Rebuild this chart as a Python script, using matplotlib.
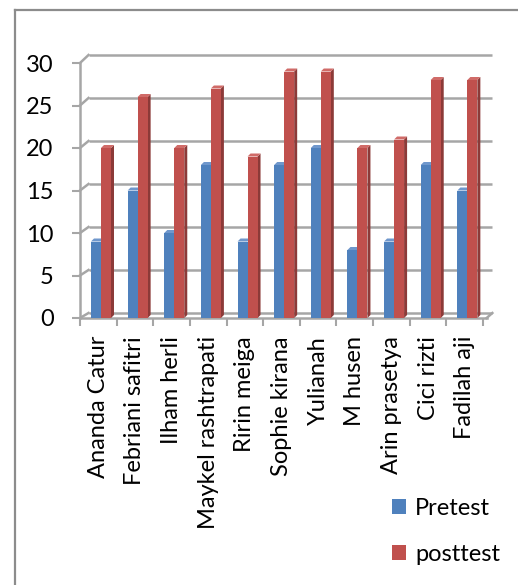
import matplotlib
matplotlib.use("Agg")
import matplotlib.pyplot as plt
from matplotlib.patches import Polygon
from matplotlib.lines import Line2D

categories = ["Ananda Catur", "Febriani safitri", "Ilham herli", "Maykel rashtrapati",
              "Ririn meiga", "Sophie kirana", "Yulianah", "M husen", "Arin prasetya",
              "Cici rizti", "Fadilah aji"]
pretest = [9, 15, 10, 18, 9, 18, 20, 8, 9, 18, 15]
posttest = [20, 26, 20, 27, 19, 29, 29, 20, 21, 28, 28]
yticks = [0, 5, 10, 15, 20, 25, 30]

W, H = 518, 585
FONT = ["Lato", "DejaVu Sans"]
plt.rcParams['font.family'] = FONT
FS = 17

fig = plt.figure(figsize=(W / 100, H / 100), dpi=100)

# outer chart border (cut off at right and bottom)
fig.add_artist(Line2D([15 / W, 15 / W], [1 - 10 / H, 0], transform=fig.transFigure,
                      color="#8c8c8c", lw=1.6))
fig.add_artist(Line2D([15 / W, 1], [1 - 10 / H, 1 - 10 / H], transform=fig.transFigure,
                      color="#8c8c8c", lw=1.6))

ax = fig.add_axes([80 / W, 1 - 318 / H, 403 / W, 255 / H])
n = len(categories)
ax.set_xlim(0, n)
ax.set_ylim(0, 30)
pxx = 403 / n
pxy = 255 / 30

grid_c = "#a6a6a6"
dxb = 8.5 / pxx


def dyb(v):
    return (5 + 3 * v / 30) / pxy


# back wall gridlines and diagonals
for v in yticks:
    ax.plot([dxb, n + dxb * 1.1], [v + dyb(v)] * 2, color=grid_c, lw=1.8,
            clip_on=False, zorder=1, solid_capstyle="butt")
    ax.plot([0, dxb], [v, v + dyb(v)], color=grid_c, lw=1.8, clip_on=False, zorder=1)
# floor front edge and right diagonal
ax.plot([0, n + 0.1], [0, 0], color=grid_c, lw=1.8, clip_on=False, zorder=1)
ax.plot([n + 0.1, n + dxb * 1.1], [0, dyb(0)], color=grid_c, lw=1.8, clip_on=False, zorder=1)

bw = 10 / pxx
depth_x = 3 / pxx
depth_y = 3 / pxy
xs = list(range(n))
blue_x = [i + 0.30 for i in xs]
red_x = [i + 0.30 + bw for i in xs]

blue, blue_side, blue_top = "#4f81bd", "#3b6595", "#6f97cc"
red, red_side, red_top = "#c0504d", "#8c3a38", "#d06b68"

ax.bar(blue_x, pretest, width=bw, align="edge", color=blue, label="Pretest", zorder=3,
       clip_on=False)
ax.bar(red_x, posttest, width=bw, align="edge", color=red, label="posttest", zorder=5,
       clip_on=False)

for x0, v in zip(blue_x, pretest):
    ax.add_patch(Polygon([(x0, v), (x0 + depth_x, v + depth_y), (x0 + bw + depth_x, v + depth_y),
                          (x0 + bw, v)], closed=True, color=blue_top, zorder=3, clip_on=False, lw=0))
for x0, v in zip(red_x, posttest):
    ax.add_patch(Polygon([(x0 + bw, 0), (x0 + bw + depth_x, depth_y), (x0 + bw + depth_x, v + depth_y),
                          (x0 + bw, v)], closed=True, color=red_side, zorder=4, clip_on=False, lw=0))
    ax.add_patch(Polygon([(x0, v), (x0 + depth_x, v + depth_y), (x0 + bw + depth_x, v + depth_y),
                          (x0 + bw, v)], closed=True, color=red_top, zorder=4, clip_on=False, lw=0))

for s in ["top", "right", "bottom"]:
    ax.spines[s].set_visible(False)
ax.spines["left"].set_color(grid_c)
ax.spines["left"].set_linewidth(1.8)
ax.set_yticks(yticks)
ax.set_yticklabels([str(v) for v in yticks], fontsize=FS)
ax.tick_params(axis="y", length=6, width=1.5, color=grid_c, pad=13)

ax.set_xticks(range(n + 1))
ax.set_xticklabels([])
ax.set_xticks([i + 0.5 for i in xs], minor=True)
ax.set_xticklabels(categories, minor=True, rotation=90, fontsize=FS, va="top", ha="center")
ax.tick_params(axis="x", which="major", length=6, width=1.5, color=grid_c, direction="out")
ax.tick_params(axis="x", which="minor", length=0, pad=13)
ax.set_facecolor("none")

fig.legend(loc="upper left", bbox_to_anchor=(392 / W, 1 - 498 / H), frameon=False,
           fontsize=FS, handlelength=0.58, handleheight=0.58, handletextpad=0.4,
           labelspacing=1.05, borderaxespad=0, borderpad=0)

fig.savefig("out.png", dpi=100)
